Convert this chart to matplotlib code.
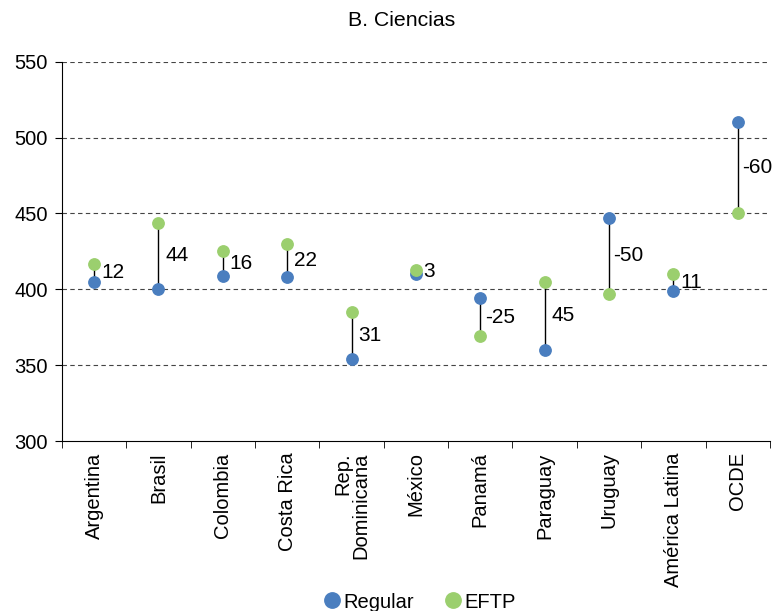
import matplotlib
matplotlib.use("Agg")
import matplotlib.pyplot as plt
import numpy as np

categories = ["Argentina", "Brasil", "Colombia", "Costa Rica", "Rep.\nDominicana",
              "México", "Panamá", "Paraguay", "Uruguay", "América Latina", "OCDE"]
regular = [405, 400, 409, 408, 354, 410, 394, 360, 447, 399, 510]
eftp = [417, 444, 425, 430, 385, 413, 369, 405, 397, 410, 450]
diff_labels = [12, 44, 16, 22, 31, 3, -25, 45, -50, 11, -60]

blue = "#4a7ebf"
green = "#9bcf6e"

plt.rcParams['font.family'] = ['Liberation Sans', 'DejaVu Sans']

fig = plt.figure(figsize=(7.73, 6.11), dpi=100)
ax = fig.add_axes([0.080, 0.278, 0.916, 0.621])

x = np.arange(len(categories))
for i in x:
    ax.plot([i, i], [regular[i], eftp[i]], color="black", lw=1, zorder=2)
    off = 0.07 if diff_labels[i] < 0 else 0.11
    ax.text(i + off, (regular[i] + eftp[i]) / 2, str(diff_labels[i]),
            fontsize=15, va="center", ha="left")

ax.plot(x, regular, "o", color=blue, ms=8.2, zorder=3, label="Regular")
ax.plot(x, eftp, "o", color=green, ms=8.2, zorder=4, label="EFTP")

ax.set_xlim(-0.5, len(categories) - 0.5)
ax.set_ylim(300, 550)
ax.set_yticks(range(300, 551, 50))
ax.tick_params(axis="y", labelsize=14.5, direction="out", length=5, pad=5)
for v in range(350, 551, 50):
    ax.axhline(v, color="#444444", lw=0.8, ls=(0, (4, 3)), zorder=1)

ax.set_xticks(x)
ax.set_xticklabels(categories, rotation=90, fontsize=14.5, va="top", ha="center",
                   multialignment="right", linespacing=0.95)
ax.set_xticks(np.arange(-0.5, len(categories)), minor=True)
ax.tick_params(axis="x", which="major", length=0, pad=8)
ax.tick_params(axis="x", which="minor", length=5, direction="out")

ax.spines["top"].set_visible(False)
ax.spines["right"].set_visible(False)

fig.text(0.52, 0.967, "B. Ciencias", fontsize=15.3, ha="center", va="center")

fig.legend(loc="center", bbox_to_anchor=(0.543, 0.0147), ncol=2, frameon=False,
           fontsize=14.5, handlelength=0.8, handletextpad=0.2, columnspacing=1.5,
           markerscale=1.35, borderpad=0)

fig.savefig("out.png", dpi=100)
